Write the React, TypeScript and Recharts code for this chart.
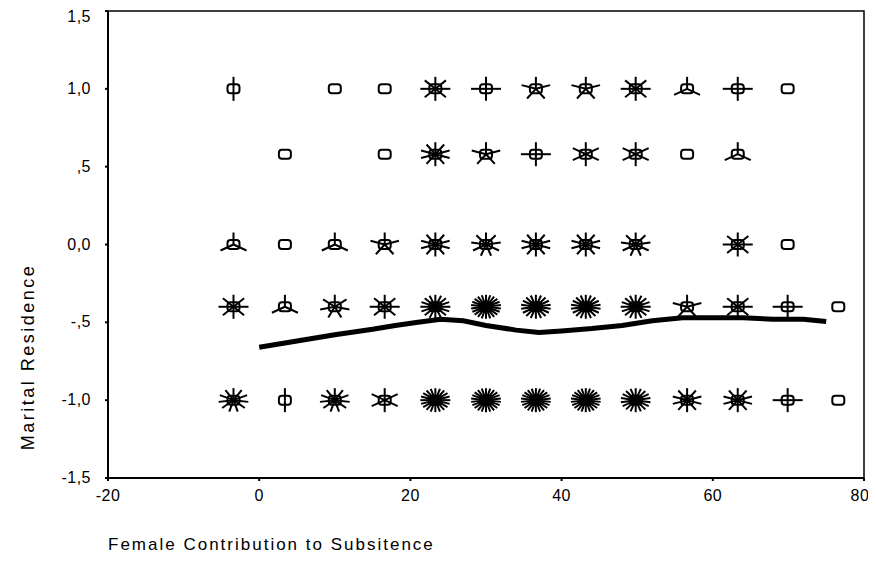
import React from 'react';
import { ScatterChart, Scatter, XAxis, YAxis, ReferenceArea } from 'recharts';

// sunflower bin centres (Female Contribution to Subsitence)
const xBins = [-3.4, 3.4, 10, 16.6, 23.3, 30, 36.6, 43.2, 49.8, 56.6, 63.3, 69.9, 76.6];
// Marital Residence rows
const yRows = [1.0, 0.58, 0.0, -0.4, -1.0];
// petal counts per row, one per x bin (0 = no case)
const countsRow1 = [2, 0, 1, 1, 8, 4, 5, 5, 8, 3, 4, 1, 0];
const countsRow06 = [0, 1, 0, 1, 10, 5, 4, 6, 6, 1, 3, 0, 0];
const countsRow0 = [3, 1, 3, 5, 10, 9, 10, 10, 9, 0, 8, 1, 0];
const countsRowM04 = [8, 3, 7, 8, 16, 22, 18, 18, 16, 5, 8, 4, 1];
const countsRowM1 = [11, 2, 11, 6, 20, 22, 22, 22, 18, 10, 10, 4, 1];
const allCounts = [countsRow1, countsRow06, countsRow0, countsRowM04, countsRowM1];

// fit line
const fitX = [0, 5, 10, 15, 18, 21, 24, 27, 30, 34, 37, 40, 44, 48, 52, 56, 60, 64, 68, 72, 75];
const fitY = [-0.66, -0.62, -0.58, -0.545, -0.52, -0.5, -0.48, -0.49, -0.52, -0.55, -0.565, -0.555, -0.54, -0.52, -0.49, -0.47, -0.47, -0.47, -0.48, -0.48, -0.495];

const xTicks = [-20, 0, 20, 40, 60, 80];
const yTicks = [-1.5, -1, -0.5, 0, 0.5, 1, 1.5];

const flowers = yRows.flatMap((y, r) =>
  xBins.map((x, i) => ({ x, y, n: allCounts[r][i] })).filter((d) => d.n > 0)
);
const fitData = fitX.map((x, i) => ({ x, y: fitY[i] }));

const fmtY = (v: number) => {
  let s = Math.abs(v).toFixed(1);
  if (Math.abs(v) < 1 && v !== 0) s = s.slice(1);
  s = s.replace('.', ',');
  return v < 0 ? '-' + s : s;
};

const font = '"Liberation Sans", Arial, sans-serif';

const Sunflower = (props: any) => {
  const { cx, cy, payload } = props;
  if (cx == null || cy == null) return null;
  const n = payload.n;
  const petals = [];
  if (n > 1) {
    for (let k = 0; k < n; k++) {
      const a = -Math.PI / 2 + (k * 2 * Math.PI) / n;
      petals.push(
        <line key={k} x1={cx} y1={cy} x2={cx + 15 * Math.cos(a)} y2={cy + 12 * Math.sin(a)} stroke="#000" strokeWidth={2} />
      );
    }
  }
  return (
    <g>
      {petals}
      <rect x={cx - 6} y={cy - 4.5} width={12} height={9} rx={3} fill="none" stroke="#000" strokeWidth={2} />
    </g>
  );
};

const XTick = ({ x, y, payload }: any) => (
  <text x={x} y={y + 18} textAnchor="middle" fontSize={16} fontFamily={font} fill="#000" style={{ letterSpacing: 0.5 }}>
    {payload.value}
  </text>
);

const YTick = ({ x, y, payload }: any) => (
  <text x={x - 12} y={y + 5} textAnchor="end" fontSize={16} fontFamily={font} fill="#000" style={{ letterSpacing: 0.5 }}>
    {fmtY(payload.value)}
  </text>
);

export default function App() {
  return (
    <div style={{ position: 'relative', width: 860, height: 547, fontFamily: font }}>
      <ScatterChart width={860} height={547} margin={{ top: 3, right: 4, left: 0, bottom: 47 }}>
        <ReferenceArea x1={-20} x2={80} y1={-1.5} y2={1.5} fill="none" stroke="#000" strokeWidth={1.5} />
        <XAxis
          type="number"
          dataKey="x"
          domain={[-20, 80]}
          ticks={xTicks}
          height={30}
          allowDataOverflow
          stroke="#000"
          strokeWidth={2}
          tickSize={3}
          tick={<XTick />}
        />
        <YAxis
          type="number"
          dataKey="y"
          domain={[-1.5, 1.5]}
          ticks={yTicks}
          width={100}
          allowDataOverflow
          stroke="#000"
          strokeWidth={2}
          tickSize={3}
          tick={<YTick />}
        />
        <Scatter data={flowers} shape={<Sunflower />} isAnimationActive={false} />
        <Scatter
          data={fitData}
          line={{ stroke: '#000', strokeWidth: 5 }}
          lineType="joint"
          shape={() => null}
          isAnimationActive={false}
        />
      </ScatterChart>
      <div
        style={{
          position: 'absolute',
          left: 100,
          top: 537,
          fontSize: 17,
          letterSpacing: 2,
          color: '#000',
          whiteSpace: 'nowrap',
          lineHeight: '20px',
          transform: 'translateY(-50%)',
        }}
      >
        Female Contribution to Subsitence
      </div>
      <div
        style={{
          position: 'absolute',
          left: 20,
          top: 349,
          fontSize: 18,
          letterSpacing: 2.5,
          color: '#000',
          whiteSpace: 'nowrap',
          lineHeight: '20px',
          transform: 'translate(-50%, -50%) rotate(-90deg)',
        }}
      >
        Marital Residence
      </div>
    </div>
  );
}
